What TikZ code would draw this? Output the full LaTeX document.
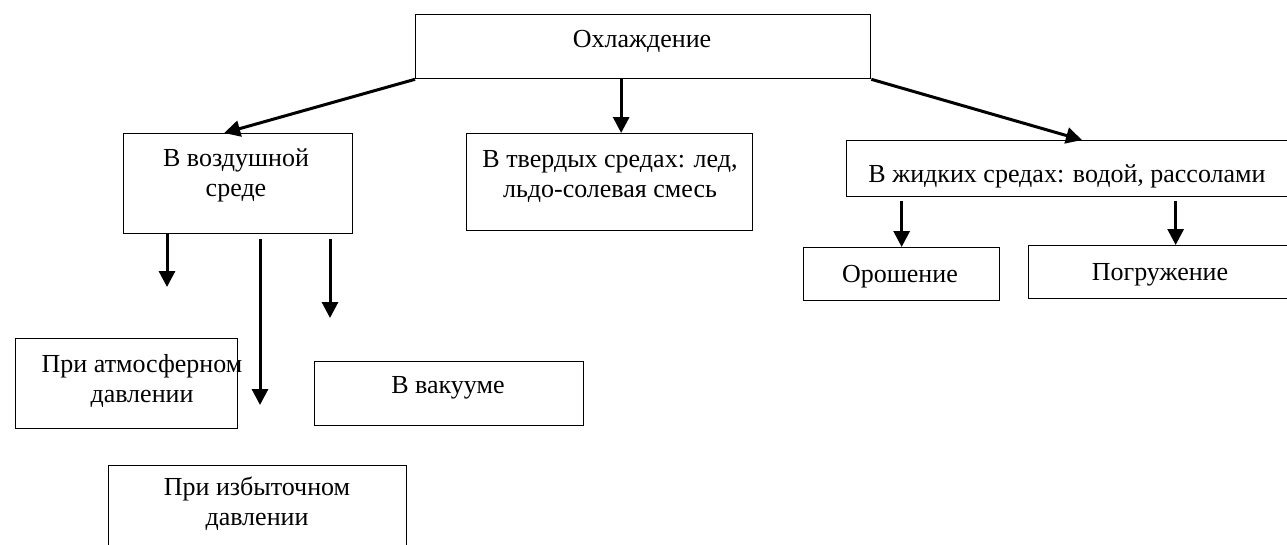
\documentclass[tikz,border=0pt]{standalone}
\usepackage{fontspec}
\setmainfont{Liberation Serif}
\usetikzlibrary{arrows.meta,positioning}
\tikzset{
  box/.style={draw, line width=1.3pt, inner sep=0pt, anchor=north west},
  lbl/.style={font=\fontsize{26}{30}\selectfont, align=center, inner sep=0pt, anchor=base},
  arr/.style={line width=3pt, -{Triangle[length=16pt,width=16pt]}}
}
\begin{document}
\begin{tikzpicture}[x=1pt,y=-1pt]
\useasboundingbox (0,0) rectangle (1287,544);
% boxes
\node (cool) [box, minimum width=455pt, minimum height=64pt] at (415,14) {};
\node (air) [box, minimum width=229pt, minimum height=100pt] at (123,133) {};
\node (solid) [box, minimum width=286pt, minimum height=97pt] at (466,133) {};
\node (liquid) [box, minimum width=450pt, minimum height=56pt] at (846,140) {};
\node (spray) [box, minimum width=196pt, minimum height=53pt] at (803,247) {};
\node (immer) [box, minimum width=270pt, minimum height=53pt] at (1028,245) {};
\node (atmo) [box, minimum width=222pt, minimum height=90pt] at (15,338) {};
\node (vac) [box, minimum width=269pt, minimum height=64pt] at (314,361) {};
\node (over) [box, minimum width=298pt, minimum height=100pt] at (108,465) {};
% texts (two-line labels sit on their last baseline)
\node (cool-t) [lbl] at (642,47) {Охлаждение};
\node (air-t) [lbl] at (236,196) {В воздушной\\среде};
\node (solid-t) [lbl] at (610,197) {В твердых средах: лед,\\льдо-солевая смесь};
\node (liquid-t) [lbl] at (1067,182) {В жидких средах: водой, рассолами};
\node (spray-t) [lbl] at (900,282) {Орошение};
\node (immer-t) [lbl] at (1160,280) {Погружение};
\node (atmo-t) [lbl] at (142,402) {При атмосферном\\давлении};
\node (vac-t) [lbl] at (448,393) {В вакууме};
\node (over-t) [lbl] at (257,525) {При избыточном\\давлении};
% arrows
\draw[arr] (cool.south west) -- ([xshift=-14pt]air.north);
\draw[arr] ([xshift=-22pt]cool.south) -- ([xshift=-22pt]cool.south |- solid.north);
\draw[arr] (cool.south east) -- ([xshift=236pt]liquid.north west);
\coordinate (a1) at (167,287);
\coordinate (a2) at (260,405);
\coordinate (a3) at (330,318);
\draw[arr] (air.south -| a1) -- (a1);
\draw[arr, shorten <=5pt] (air.south -| a2) -- (a2);
\draw[arr, shorten <=5pt] (air.south -| a3) -- (a3);
\draw[arr, shorten <=4pt] (spray.north |- liquid.south) -- (spray.north);
\draw[arr, shorten <=4pt] ([xshift=12pt]immer.north |- liquid.south) -- ([xshift=12pt]immer.north);
\end{tikzpicture}
\end{document}
